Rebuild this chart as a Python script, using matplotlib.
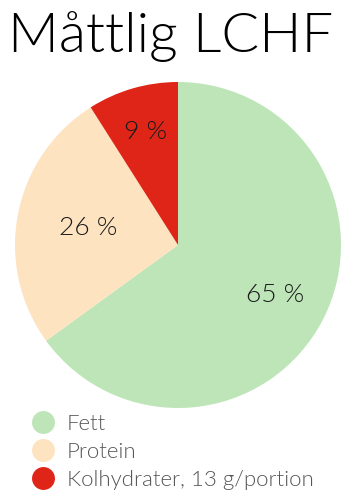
import matplotlib
matplotlib.use("Agg")
import matplotlib.pyplot as plt
import numpy as np
from matplotlib.lines import Line2D

TITLE = "Måttlig LCHF"
categories = ["Fett", "Protein", "Kolhydrater, 13 g/portion"]
shares = [65, 26, 9]
colors = ["#bde5b8", "#fde3c0", "#df2518"]
label_radius = [0.67, 0.56, 0.72]

plt.rcParams["font.family"] = ["Lato", "DejaVu Sans"]
W = 300

fig = plt.figure(figsize=(3.52, 4.98), dpi=100)
ax = fig.add_axes([15 / 352, 90 / 498, 326 / 352, 326 / 498])

wedges, _ = ax.pie(shares, colors=colors, startangle=90, counterclock=False,
                   radius=1.0, wedgeprops=dict(linewidth=0))
for w, val, r in zip(wedges, shares, label_radius):
    mid = np.deg2rad((w.theta1 + w.theta2) / 2)
    ax.text(r * np.cos(mid), r * np.sin(mid), f"{val} %", ha="center", va="center",
            fontsize=19, color="#1a1a1a", fontweight=W)
ax.set_xlim(-1, 1)
ax.set_ylim(-1, 1)
ax.set_aspect("equal")
ax.axis("off")

fig.text(8 / 352, 1 - 52 / 498, TITLE, fontsize=40.3, fontweight=W,
         va="baseline", ha="left", color="black")

handles = [Line2D([0], [0], marker="o", color="w", markerfacecolor=c,
                  markeredgewidth=0, markersize=16.5, label=lab)
           for c, lab in zip(colors, categories)]
leg = fig.legend(handles=handles, loc="upper left", bbox_to_anchor=(19 / 352, 1 - 403 / 498),
                 frameon=False, fontsize=16, labelspacing=0.35, handletextpad=0.45,
                 handlelength=1.2, borderpad=0)
for t in leg.get_texts():
    t.set_color("#555555")
    t.set_fontweight(W)

fig.savefig("out.png", dpi=100)
